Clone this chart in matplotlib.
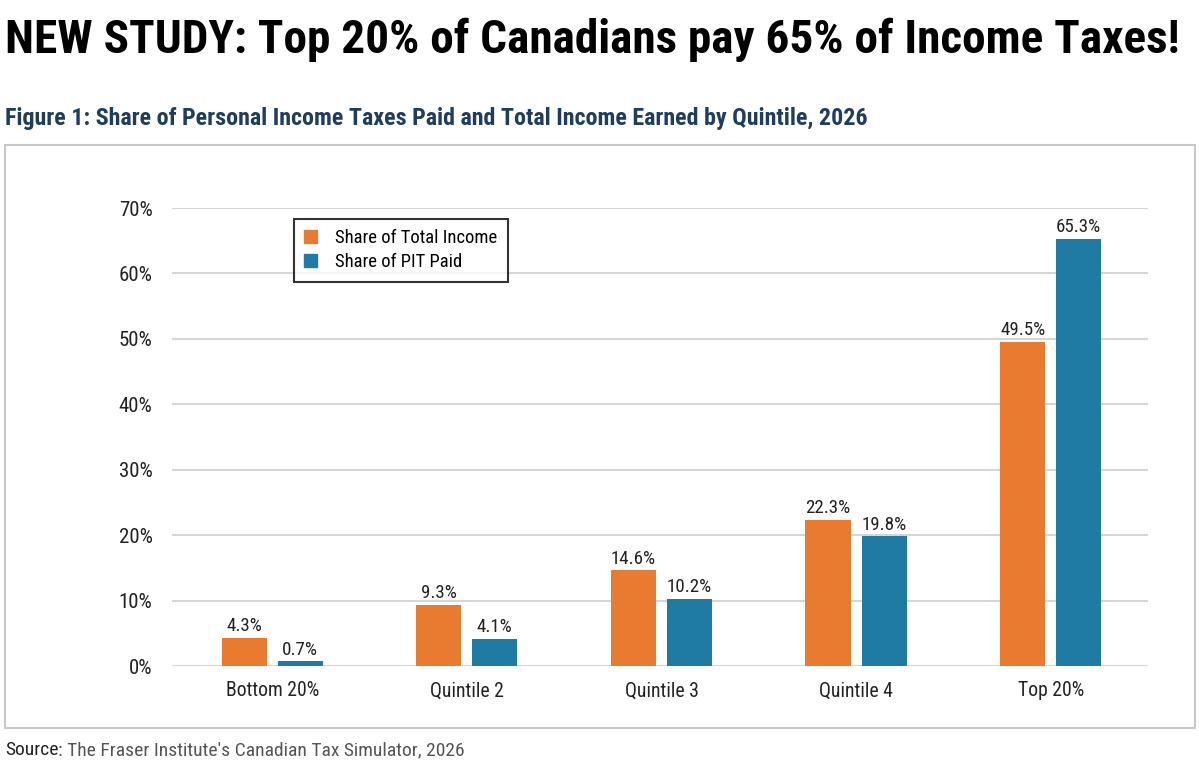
import matplotlib
matplotlib.use('Agg')
import numpy as np
from matplotlib import pyplot as plt
from matplotlib.patches import Rectangle, Patch

# data
categories = ['Bottom 20%', 'Quintile 2', 'Quintile 3', 'Quintile 4', 'Top 20%']
income_share = [4.3, 9.3, 14.6, 22.3, 49.5]
pit_share = [0.7, 4.1, 10.2, 19.8, 65.3]
yticks = [0, 10, 20, 30, 40, 50, 60, 70]
series_names = ['Share of Total Income', 'Share of PIT Paid']

ORANGE = '#E97B30'
BLUE = '#1F7BA4'
FONT = ['Roboto Condensed', 'Roboto', 'DejaVu Sans']

plt.rcParams['font.family'] = FONT

W, H = 1199, 762
fig = plt.figure(figsize=(W / 100, H / 100), dpi=100)
fig.patch.set_facecolor('white')


def fx(px):
    return px / W


def fy(py):
    return 1 - py / H


# outer frame around chart
fig.patches.append(Rectangle((fx(5), fy(728)), fx(1190), 583 / H,
                             transform=fig.transFigure, fill=False,
                             edgecolor='#c8c8c8', linewidth=1.5))

ax = fig.add_axes([fx(172), fy(666), fx(976), 458 / H])
x = np.arange(len(categories))
bw = 0.232
off = 0.144

b1 = ax.bar(x - off, income_share, bw, color=ORANGE, zorder=3)
b2 = ax.bar(x + off, pit_share, bw, color=BLUE, zorder=3)

for bars, vals in [(b1, income_share), (b2, pit_share)]:
    for r, v in zip(bars, vals):
        ax.annotate(f'{v}%', (r.get_x() + r.get_width() / 2, v),
                    xytext=(0, 2), textcoords='offset points',
                    ha='center', va='bottom', fontsize=13.7, color='#222222')

ax.set_xlim(-0.515, 4.5)
ax.set_ylim(0, 70)
ax.set_yticks(yticks)
ax.set_yticklabels([f'{t}%' for t in yticks])
ax.set_xticks(x)
ax.set_xticklabels(categories)
ax.tick_params(axis='both', length=0, colors='#222222')
ax.tick_params(axis='y', pad=14, labelsize=15)
ax.tick_params(axis='x', pad=11, labelsize=14.2)
for s in ax.spines.values():
    s.set_visible(False)
ax.yaxis.grid(True, color='#d6d6d6', linewidth=1.5, zorder=0)
ax.set_axisbelow(True)

handles = [Patch(color=ORANGE), Patch(color=BLUE)]
leg = ax.legend(handles, series_names, loc='upper left',
                bbox_to_anchor=(0.115, 0.997), fontsize=13.4,
                handlelength=0.7, handleheight=0.7, handletextpad=1.0,
                borderpad=0.55, labelspacing=0.35, fancybox=False)
leg.get_frame().set_edgecolor('black')
leg.get_frame().set_linewidth(1.5)

# titles
fig.text(fx(5), fy(40), 'NEW STUDY: Top 20% of Canadians pay 65% of Income Taxes!',
         fontsize=34, fontweight='bold', color='black', va='center', ha='left')
fig.text(fx(5), fy(118), 'Figure 1: Share of Personal Income Taxes Paid and Total Income Earned by Quintile, 2026',
         fontsize=17.3, fontweight='bold', color='#1F3D5C', va='center', ha='left')

# source line
t1 = fig.text(fx(5), fy(750), 'Source', fontsize=14, color='#222222', va='center', ha='left')
fig.canvas.draw()
bb = t1.get_window_extent()
fig.text(bb.x1 / W, fy(750), ": The Fraser Institute's Canadian Tax Simulator, 2026",
         fontsize=14, color='#555555', va='center', ha='left')

fig.savefig('out.png', dpi=100, facecolor='white')
